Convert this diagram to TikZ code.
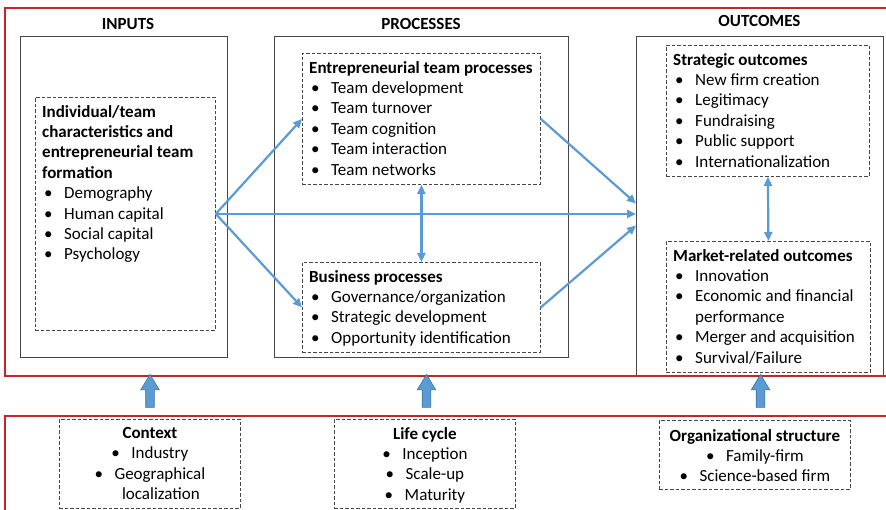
\documentclass[tikz,border=0pt]{standalone}
\usepackage{fontspec}
\setmainfont{Carlito}
\usepackage{xcolor}
\usepackage{tikz}
\usetikzlibrary{arrows.meta, shapes.arrows}
\definecolor{framered}{RGB}{200, 35, 40}
\definecolor{boxgray}{RGB}{70, 70, 70}
\definecolor{linkblue}{RGB}{91, 155, 213}
\definecolor{linkbluedark}{RGB}{65, 113, 156}
\newcommand{\hd}[1]{\textbf{#1}}
\newcommand{\bul}[1]{\hspace*{2pt}\makebox[20pt][l]{\textbullet}#1}
\newcommand{\bulcont}[1]{\hspace*{22pt}#1}
\newcommand{\cbul}[1]{\makebox[20pt][l]{\textbullet}#1}
\tikzset{
  framebox/.style={draw=framered, line width=2pt},
  stagebox/.style={rectangle, draw=boxgray, line width=1pt, inner sep=0pt,
    anchor=north west},
  dashbox/.style={rectangle, draw=boxgray, dash pattern=on 3.5pt off 2pt,
    line width=0.8pt, inner sep=0pt, anchor=north west},
  stagetitle/.style={anchor=base, inner sep=0pt,
    font=\fontsize{17}{20}\selectfont\bfseries},
  listtext/.style={align=left, inner sep=0pt, anchor=north west,
    font=\fontsize{17}{20.4}\selectfont},
  centertext/.style={align=center, inner sep=0pt, anchor=north,
    font=\fontsize{17}{20.4}\selectfont},
  link/.style={draw=linkblue, line width=2.2pt,
    -{Triangle[length=9pt, width=8pt]}},
  twoway/.style={link, {Triangle[length=9pt, width=8pt]}-{Triangle[length=9pt, width=8pt]}},
  blockarrow/.style={single arrow, shape border rotate=90, fill=linkblue,
    draw=linkbluedark, line width=0.6pt, inner sep=4pt, minimum height=33pt,
    single arrow head extend=5pt, single arrow tip angle=62},
}

\begin{document}
\begin{tikzpicture}[x=1pt, y=-1pt]
  \useasboundingbox (0,0) rectangle (886,510);

  % ── Stage columns ──
  \node[stagebox, minimum width=207pt, minimum height=321pt] (inputs)  at (20,36)  {};
  \node[stagebox, minimum width=294pt, minimum height=321pt] (procs)   at (274,36) {};
  \node[stagebox, minimum width=247pt, minimum height=340pt] (outs)    at (636,36) {};

  \node[stagetitle] (inputstitle) at (128,30)   {INPUTS};
  \node[stagetitle] (procstitle)  at (421,30)   {PROCESSES};
  \node[stagetitle] (outstitle)   at (759.5,27) {OUTCOMES};

  % ── Dashed groups ──
  \node[dashbox, minimum width=180pt, minimum height=233pt] (indbox)   at (35,97)   {};
  \node[dashbox, minimum width=238pt, minimum height=131pt] (etpbox)   at (302,53)  {};
  \node[dashbox, minimum width=238pt, minimum height=90pt]  (bizbox)   at (302,262) {};
  \node[dashbox, minimum width=203pt, minimum height=131pt] (stratbox) at (666,45)  {};
  \node[dashbox, minimum width=204pt, minimum height=131pt] (mktbox)   at (666,241) {};

  \node[dashbox, minimum width=181pt, minimum height=89pt] (ctxbox)  at (59,419)  {};
  \node[dashbox, minimum width=181pt, minimum height=89pt] (lifebox) at (334,419) {};
  \node[dashbox, minimum width=191pt, minimum height=69pt] (orgbox)  at (659,420) {};

  % ── Group texts ──
  \node[listtext] (indtext) at ([shift={(7,8)}]indbox.north west)
    {\hd{Individual/team}\\ \hd{characteristics and}\\ \hd{entrepreneurial team}\\
     \hd{formation}\\ \bul{Demography}\\ \bul{Human capital}\\ \bul{Social capital}\\
     \bul{Psychology}};
  \node[listtext] (etptext) at ([shift={(7,8)}]etpbox.north west)
    {\hd{Entrepreneurial team processes}\\ \bul{Team development}\\ \bul{Team turnover}\\
     \bul{Team cognition}\\ \bul{Team interaction}\\ \bul{Team networks}};
  \node[listtext] (biztext) at ([shift={(7,8)}]bizbox.north west)
    {\hd{Business processes}\\ \bul{Governance/organization}\\ \bul{Strategic development}\\
     \bul{Opportunity identification}};
  \node[listtext] (strattext) at ([shift={(7,8)}]stratbox.north west)
    {\hd{Strategic outcomes}\\ \bul{New firm creation}\\ \bul{Legitimacy}\\
     \bul{Fundraising}\\ \bul{Public support}\\ \bul{Internationalization}};
  \node[listtext] (mkttext) at ([shift={(7,8)}]mktbox.north west)
    {\hd{Market-related outcomes}\\ \bul{Innovation}\\ \bul{Economic and financial}\\
     \bulcont{performance}\\ \bul{Merger and acquisition}\\ \bul{Survival/Failure}};

  \node[centertext] (ctxtext) at ([yshift=-8pt]ctxbox.north)
    {\hd{Context}\\ \cbul{Industry}\\ \cbul{Geographical}\\ \bulcont{localization}};
  \node[centertext] (lifetext) at ([yshift=-8pt]lifebox.north)
    {\hd{Life cycle}\\ \cbul{Inception}\\ \cbul{Scale-up}\\ \cbul{Maturity}};
  \node[centertext] (orgtext) at ([yshift=-9pt]orgbox.north)
    {\hd{Organizational structure}\\ \cbul{Family-firm}\\ \cbul{Science-based firm}};

  % ── Links ──
  \draw[link] (indbox.east) -- (etpbox.west);
  \draw[link] (indbox.east) -- (bizbox.west);
  \draw[link] (indbox.east) -- (indbox.east -| outs.west);
  \draw[link] (etpbox.east) -- ([yshift=3pt]outs.west);
  \draw[link] (bizbox.east) -- ([yshift=-19pt]outs.west);
  \draw[twoway] (etpbox.south) -- (bizbox.north);
  \draw[twoway] (stratbox.south) -- (mktbox.north);

  % ── Frames ──
  \draw[framebox] (5,8) rectangle (895,376);
  \draw[framebox] (5,416) rectangle (895,520);

  % ── Influence arrows ──
  \node[blockarrow] (ctxup)  at (150,394.5)   {};
  \node[blockarrow] (lifeup) at (426.5,394.5) {};
  \node[blockarrow] (orgup)  at (760.5,394.5) {};

\end{tikzpicture}
\end{document}
